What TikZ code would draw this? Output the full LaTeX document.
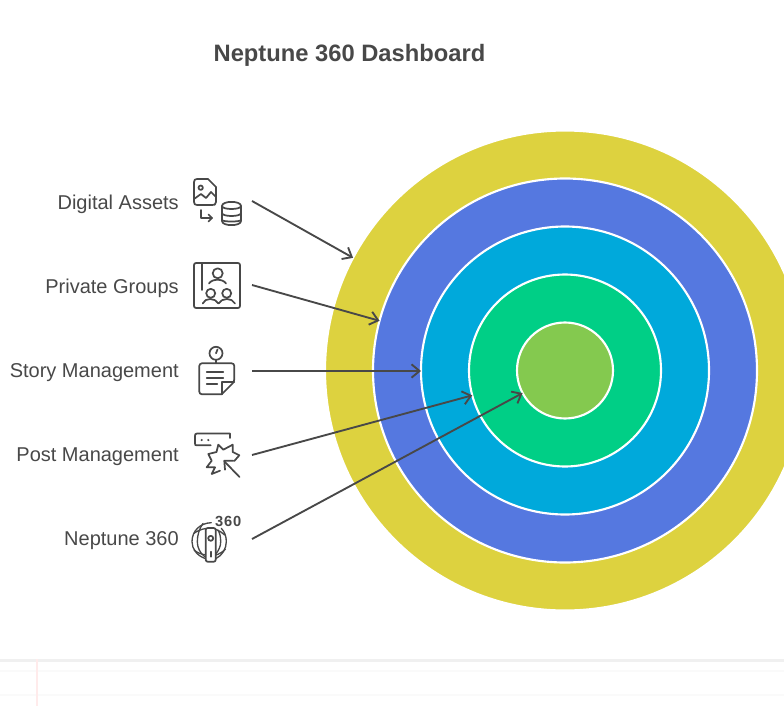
\documentclass[tikz,border=0pt]{standalone}
\usepackage{fontspec}
\setmainfont{Liberation Sans}
\newfontfamily\digitfont[LetterSpace=6]{Liberation Sans}
\usetikzlibrary{arrows.meta}
\definecolor{ink}{HTML}{484848}
\definecolor{ringa}{HTML}{DDD23F}
\definecolor{ringb}{HTML}{5578E0}
\definecolor{ringc}{HTML}{00A9DB}
\definecolor{ringd}{HTML}{00CF86}
\definecolor{ringe}{HTML}{84C94F}
\tikzset{
  ring/.style={circle,inner sep=0pt,outer sep=0pt,draw=white,line width=1.6pt},
  lbl/.style={anchor=east,inner sep=0pt,text=ink,font=\fontsize{15}{18}\selectfont},
  link/.style={draw=ink,line width=1.4pt,-{Straight Barb[length=6pt,width=10pt,line width=1.4pt]}},
  icon/.style={draw=ink,line width=1.3pt,line cap=round,line join=round}
}
\begin{document}
\begin{tikzpicture}[x=0.75pt,y=-0.75pt]
  \useasboundingbox (0,0) rectangle (784,706);
  \begin{scope}
    \clip (0,0) rectangle (784,706);
    \foreach \name/\dia/\col in {a/480/ringa,b/384/ringb,c/288/ringc,d/192/ringd,e/96/ringe}
      \node[ring,fill=\col,minimum size=\dia*0.75pt] (ring\name) at (565,370.5) {};
  \end{scope}

  \draw[draw=black!6,line width=2.2pt] (0,660.5) -- (784,660.5);
  \draw[draw=black!2,line width=1pt] (0,671) -- (784,671);
  \draw[draw=black!2,line width=1pt] (0,695) -- (784,695);
  \draw[draw=red!8,line width=1.2pt] (37,659) -- (37,706);

  \node[text=ink,font=\bfseries\fontsize{17.8}{22}\selectfont,inner sep=0pt] (title) at (349.5,55) {Neptune 360 Dashboard};

  \node[lbl] (assets) at (179,204) {Digital Assets};
  \node[lbl] (groups) at (179,288) {Private Groups};
  \node[lbl] (story) at (179,373) {Story Management};
  \node[lbl] (post) at (179,457) {Post Management};
  \node[lbl] (neptune) at (179,541) {Neptune 360};

  \coordinate (from1) at (252,201);
  \coordinate (from2) at (252,285);
  \coordinate (from3) at (252,371);
  \coordinate (to3) at (421,371);
  \coordinate (from4) at (252,455);
  \coordinate (from5) at (252,539);
  \draw[link] (from1) to (ringa.152);
  \draw[link] (from2) to (ringb.165.5);
  \draw[link] (from3) to (to3);
  \draw[link] (from4) to (ringd.195);
  \draw[link] (from5) to (ringe.208.7);

  % icons
  \begin{scope}[icon]
    \draw (197,179) -- (208,179) -- (216,187) -- (216,202) .. controls (216,205) and (214,205) .. (212,205)
      -- (197,205) .. controls (195,205) and (194,204) .. (194,202) -- (194,182) .. controls (194,180) and (195,179) .. (197,179);
    \draw (200.7,187.7) circle (2.2);
    \draw (194,199) -- (201,194) -- (206,198) -- (211,192) -- (216,197);
    \draw (201,210) -- (201,218) -- (212,218);
    \draw (208.5,214.5) -- (212,218) -- (208.5,221.5);
    \draw (222,206) .. controls (222,200.5) and (241,200.5) .. (241,206) -- (241,221)
      .. controls (241,226.5) and (222,226.5) .. (222,221) -- cycle;
    \draw (222,206) .. controls (222,210) and (241,210) .. (241,206);
    \draw (222,213) .. controls (222,217) and (241,217) .. (241,213);
    \draw (222,220) .. controls (222,222) and (241,222) .. (241,220);

    \draw[rounded corners=1.5pt] (194,263) rectangle (240,308);
    \draw (201.7,264) -- (201.7,290);
    \draw (217.7,273.3) circle (5);
    \draw (209,283.5) .. controls (212,278.5) and (223,278.5) .. (226,283.5);
    \draw (210.7,293.3) circle (4.5);
    \draw (226.7,293.3) circle (4.5);
    \draw (202.7,303.5) .. controls (205,297.5) and (215,297.5) .. (218.5,303.5)
      .. controls (222,297.5) and (232,297.5) .. (235,303.5);

    \draw (216,353.3) circle (6.5);
    \draw (216,353.3) -- (217.5,349.5);
    \draw (216,359.8) -- (216,363.3);
    \draw[rounded corners=2pt] (221.7,394.3) -- (199.3,394.3) -- (199.3,363.3) -- (234.3,363.3) -- (234.3,381.7) -- (221.7,394.3);
    \draw (221.7,394.3) -- (221.7,381.7) -- (234.3,381.7);
    \draw (206.7,371.7) -- (223.3,371.7);
    \draw (206.7,377.7) -- (223.3,377.7);
    \draw (206.7,383.7) -- (217.3,383.7);

    \draw (230,438) -- (230,433.5) -- (197,433.5) .. controls (195,433.5) and (195,434.5) .. (195,436.5) -- (195,443)
      .. controls (195,445.3) and (195,445.3) .. (197,445.3) -- (210.7,445.3);
    \fill[ink] (201.7,440) circle (1.2);
    \fill[ink] (208.3,440) circle (1.2);
    \draw (234.3,461) -- (239.3,455.3) -- (232.7,452) -- (232.7,444.7) -- (223.3,449.7) -- (218.3,444.7) -- (216.5,452)
      -- (208.3,454) -- (211.7,460.7) -- (206.7,467.3) -- (215,467.3) -- (211.7,474) -- (220,470.7);
    \draw (239.5,477) -- (224.5,461.5);
    \draw (225,469.7) -- (224.3,460.7) -- (233.3,460.7);

    \begin{scope}[line width=1pt]
      \draw (211.3,522.7) .. controls (200,523) and (192,531) .. (192,541.7) .. controls (192,549) and (197,555.5) .. (204.7,558.3);
      \draw (221.3,528.3) .. controls (225,532) and (226.3,537) .. (226.3,541.7) .. controls (226.3,549) and (222,555.5) .. (216.3,558.3);
      \draw (203,523.5) .. controls (199.5,528) and (197.3,535) .. (197.3,541.7) .. controls (197.3,547.5) and (200,553) .. (204.7,556.7);
      \draw (218,530) .. controls (219.8,533) and (220.7,537) .. (220.7,541.7) .. controls (220.7,546) and (219,550) .. (216.3,553.3);
      \draw (194,533.3) .. controls (197,531) and (201,529.3) .. (205.7,528.5);
      \draw (194,550) .. controls (197,552.5) and (201,554.2) .. (205.7,555);
      \draw (215.7,529.3) .. controls (219,530.3) and (222,532.5) .. (224.7,535);
      \draw (215.7,555) .. controls (219,554.2) and (222.5,552) .. (225.3,549.3);
    \end{scope}
    \draw[rounded corners=1.5pt,fill=white] (205.7,528) rectangle (215.7,561.7);
    \draw (210.7,538.3) circle (2.5);
    \draw (210.7,551.7) -- (210.7,556.7);
  \end{scope}
  \node[inner sep=0pt,text=ink,font=\digitfont\bfseries\fontsize{11}{13}\selectfont] (threesixty) at (228.3,521.5) {360};
\end{tikzpicture}
\end{document}
